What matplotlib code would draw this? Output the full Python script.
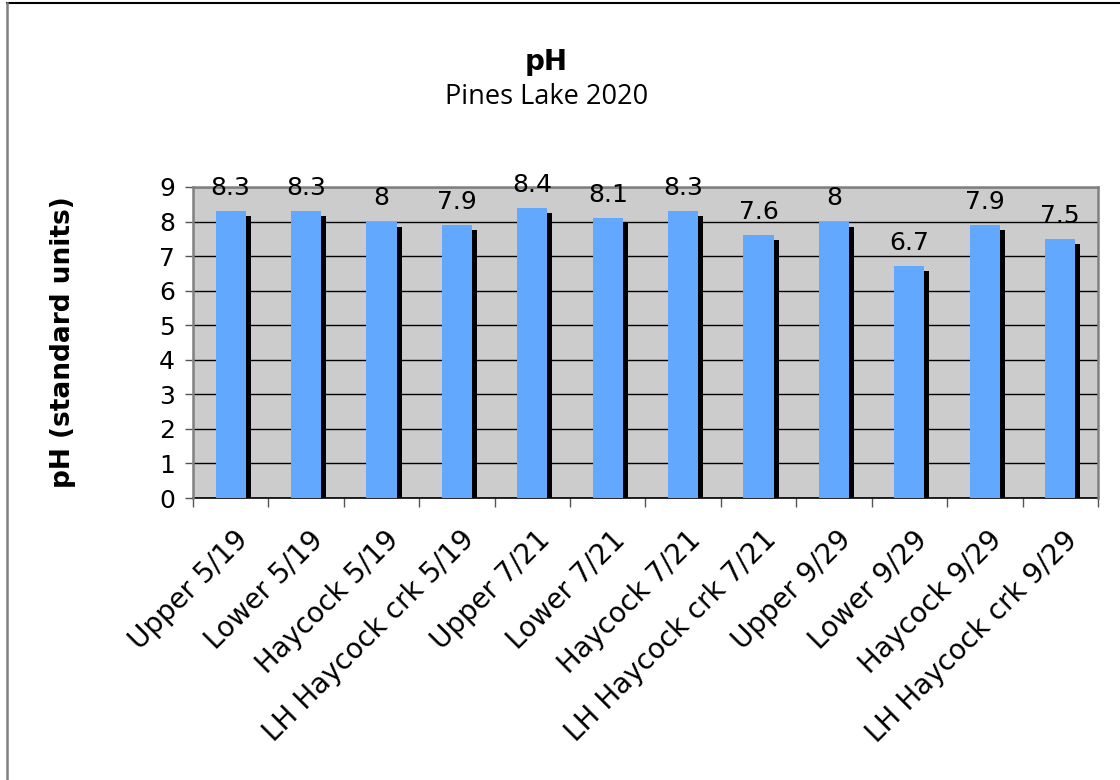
import matplotlib.pyplot as plt
import matplotlib.patheffects as pe
import matplotlib.transforms as mtransforms
import numpy as np

# data
sites = ['Upper 5/19', 'Lower 5/19', 'Haycock 5/19', 'LH Haycock crk 5/19',
         'Upper 7/21', 'Lower 7/21', 'Haycock 7/21', 'LH Haycock crk 7/21',
         'Upper 9/29', 'Lower 9/29', 'Haycock 9/29', 'LH Haycock crk 9/29']
ph = [8.3, 8.3, 8, 7.9, 8.4, 8.1, 8.3, 7.6, 8, 6.7, 7.9, 7.5]
labels = ['8.3', '8.3', '8', '7.9', '8.4', '8.1', '8.3', '7.6', '8', '6.7', '7.9', '7.5']
yticks = list(range(0, 10))

plt.rcParams['font.family'] = ['DejaVu Sans']

fig = plt.figure(figsize=(11.2, 7.8), dpi=100)
# chart frame: only top and left edges show in the original
fig.add_artist(plt.Line2D([0.006, 1.0], [0.996, 0.996], transform=fig.transFigure, color='black', linewidth=1.5))
fig.add_artist(plt.Line2D([0.0063, 0.0063], [0.0, 0.996], transform=fig.transFigure, color='#808080', linewidth=1.8))

ax = fig.add_axes([0.1723, 0.3615, 0.808, 0.3988])
ax.set_facecolor('#cccccc')

x = np.arange(len(sites))
ax.bar(x, ph, width=0.40, color='#62a8ff', zorder=3,
       path_effects=[pe.SimplePatchShadow(offset=(3.6, -3.6), shadow_rgbFace='black', alpha=1.0),
                     pe.Normal()])

for xi, v, lab in zip(x, ph, labels):
    ax.annotate(lab, (xi, v), xytext=(0, 8), textcoords='offset points',
                ha='center', va='bottom', fontsize=18, annotation_clip=False, zorder=5)

ax.set_xlim(-0.5, len(sites) - 0.5)
ax.set_ylim(0, 9)
ax.set_yticks(yticks)
ax.set_yticklabels([str(t) for t in yticks], fontsize=18)
ax.yaxis.grid(True, color='black', linewidth=1)
ax.set_axisbelow(True)

# category ticks sit between bars, labels at bar centres
ax.set_xticks(np.arange(-0.5, len(sites), 1.0))
ax.set_xticklabels([])
ax.set_xticks(x, minor=True)
ax.set_xticklabels(sites, minor=True, rotation=45, ha='right', va='center',
                   rotation_mode='anchor', fontsize=20)
ax.tick_params(axis='x', which='minor', length=0, pad=27)
ax.tick_params(axis='x', which='major', length=6.5, width=1, direction='out', color='#555555')
ax.tick_params(axis='y', length=6, width=1, direction='out', pad=7, color='#555555')
shift = mtransforms.ScaledTranslation(0.13, 0, fig.dpi_scale_trans)
for t in ax.get_xticklabels(minor=True):
    t.set_transform(t.get_transform() + shift)

for s in ['top', 'right', 'left']:
    ax.spines[s].set_color('#808080')
    ax.spines[s].set_linewidth(1.8)
    ax.spines[s].set_zorder(4)
ax.spines['bottom'].set_color('black')
ax.spines['bottom'].set_linewidth(1.2)

# y axis title placed on the figure
fig.text(63 / 1120, 0.3615 + 0.3988 / 2, 'pH (standard units)', rotation=90,
         ha='center', va='center', fontsize=19, fontweight='bold')

fig.text(546 / 1120, 1 - 62 / 780, 'pH', ha='center', va='center', fontsize=20, fontweight='bold')
fig.text(547 / 1120, 1 - 97 / 780, 'Pines Lake 2020', ha='center', va='center', fontsize=19.5,
         family=['Open Sans', 'DejaVu Sans'])

fig.savefig('out.png', dpi=100)
